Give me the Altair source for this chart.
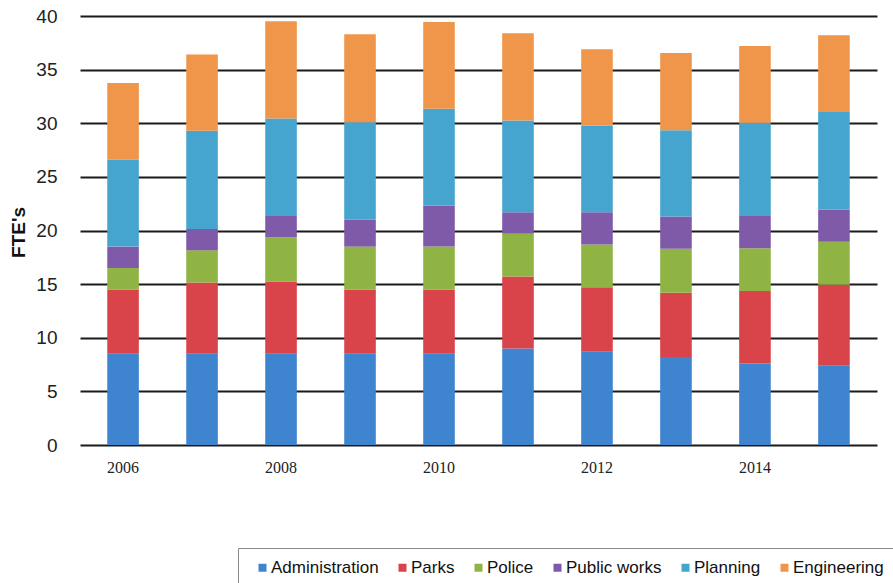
import altair as alt
import pandas as pd

years = ["2006", "2007", "2008", "2009", "2010", "2011", "2012", "2013", "2014", "2015"]
label_years = ["2006", "2008", "2010", "2012", "2014"]
categories = ["Administration", "Parks", "Police", "Public works", "Planning", "Engineering"]
colors = ["#3f84cf", "#d9434a", "#8fb444", "#7f5aa8", "#46a5cf", "#f0964a"]

administration = [8.5, 8.5, 8.5, 8.5, 8.5, 9.0, 8.7, 8.2, 7.6, 7.4]
parks = [6.0, 6.65, 6.75, 6.0, 6.0, 6.7, 6.0, 6.0, 6.75, 7.55]
police = [2.0, 3.0, 4.1, 4.0, 4.0, 4.0, 4.0, 4.1, 4.0, 4.0]
public_works = [2.0, 2.0, 2.0, 2.5, 3.8, 2.0, 3.0, 3.0, 3.0, 3.0]
planning = [8.1, 9.15, 9.1, 9.1, 9.05, 8.55, 8.1, 8.05, 8.7, 9.1]
engineering = [7.15, 7.1, 9.05, 8.2, 8.1, 8.15, 7.1, 7.2, 7.15, 7.15]
grid_values = [0, 5, 10, 15, 20, 25, 30, 35, 40]

series = [administration, parks, police, public_works, planning, engineering]
rows = []
for ci, (cat, vals) in enumerate(zip(categories, series)):
    for y, v in zip(years, vals):
        rows.append({"Year": y, "Dept": cat, "FTE": v, "idx": ci})
df = pd.DataFrame(rows)
label_df = pd.DataFrame({"Year": label_years})

xscale = alt.Scale(domain=years, paddingInner=0.6, paddingOuter=0.345)

bars = alt.Chart(df).mark_bar().encode(
    x=alt.X("Year:N", scale=xscale, axis=None),
    y=alt.Y("FTE:Q", stack="zero",
            scale=alt.Scale(domain=[0, 40], nice=False),
            axis=alt.Axis(title="FTE's", values=grid_values,
                          labelFont="Liberation Sans", labelFontSize=19, labelColor="#222",
                          labelPadding=23, ticks=False, domain=False,
                          grid=True, gridColor="#1a1a1a", gridWidth=2,
                          titleFont="Liberation Sans", titleFontSize=19, titleFontWeight="bold",
                          titleColor="#111", titleX=-62, titleY=216, titleAngle=270,
                          titleAlign="center", titleBaseline="middle")),
    color=alt.Color("Dept:N", scale=alt.Scale(domain=categories, range=colors),
                    legend=alt.Legend(title=None, orient="none", legendX=158, legendY=532,
                                      direction="horizontal", columns=6,
                                      symbolType="square", symbolSize=64,
                                      symbolStrokeWidth=0,
                                      labelFont="Liberation Sans", labelFontSize=17,
                                      labelColor="#111", labelOffset=0,
                                      columnPadding=10, padding=11,
                                      strokeColor="#888", symbolOffset=5)),
    order=alt.Order("idx:Q", sort="ascending"),
)

labels = alt.Chart(label_df).mark_text(
    font="Liberation Serif", fontSize=16, color="#222", baseline="middle", align="center"
).encode(
    x=alt.X("Year:N", scale=xscale, axis=None),
    y=alt.value(452),
    text="Year:N",
)

chart = alt.layer(bars, labels).properties(
    width=797, height=429,
    background="white",
    padding={"left": 80, "top": 16, "right": 16, "bottom": 138},
    autosize=alt.AutoSizeParams(type="none"),
).configure_view(
    stroke=None
).configure_axis(
    domain=False
)

chart.save("out.html", embed_options={"renderer": "svg", "actions": False})
